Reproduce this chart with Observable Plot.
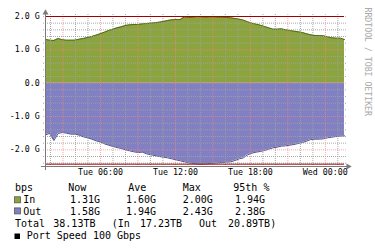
<!DOCTYPE html>
<html><head><meta charset="utf-8">
<script src="https://cdn.jsdelivr.net/npm/d3@7"></script>
<script src="https://cdn.jsdelivr.net/npm/@observablehq/plot@0.6"></script>
<style>
html,body{margin:0;padding:0;background:#fff;}
#wrap{position:relative;width:375px;height:248px;overflow:hidden;background:#fff;}
#wrap svg{display:block;}
</style></head><body><div id="wrap"></div>
<script>
// ---- data (Gbps), samples evenly spaced across the 24h window ----
const inValues = [1.31,1.29,1.28,1.34,1.30,1.29,1.29,1.29,1.32,1.34,
 1.37,1.40,1.44,1.48,1.53,1.58,1.62,1.66,1.69,1.73,
 1.75,1.76,1.76,1.78,1.79,1.80,1.81,1.83,1.85,1.88,
 1.90,1.91,1.91,1.99,1.97,1.98,2.00,1.99,1.98,1.99,
 1.99,1.98,1.98,1.97,1.96,1.94,1.92,1.89,1.84,1.80,
 1.77,1.74,1.70,1.66,1.62,1.62,1.63,1.60,1.58,1.56,
 1.54,1.52,1.48,1.45,1.43,1.43,1.42,1.39,1.36,1.35,
 1.35,1.31];
const outValues = [1.55,1.51,1.72,1.51,1.48,1.50,1.53,1.53,1.56,1.61,
 1.64,1.68,1.73,1.76,1.82,1.86,1.90,1.93,1.96,2.00,
 2.03,2.06,2.08,2.07,2.12,2.15,2.17,2.20,2.22,2.24,
 2.27,2.30,2.33,2.36,2.39,2.41,2.42,2.43,2.42,2.41,
 2.40,2.39,2.38,2.37,2.36,2.32,2.27,2.24,2.15,2.10,
 2.07,2.05,2.02,1.98,1.94,1.92,1.89,1.88,1.86,1.84,
 1.81,1.78,1.74,1.69,1.68,1.68,1.67,1.64,1.62,1.60,
 1.59,1.58];
const windowStart = new Date(2024, 0, 2, 1, 36);  // Tue 01:36
const windowEnd   = new Date(2024, 0, 3, 1, 32);  // Wed 01:32
const yDomain = [-2.5, 2.0];
const yTickValues = [-2, -1, 0, 1, 2];
const yTickLabels = ["-2.0 G", "-1.0 G", "0.0", "1.0 G", "2.0 G"];
const maxIn = 2.00;
const maxOut = 2.43;

// legend texts
const legendHeader = ["bps", "Now", "Ave", "Max", "95th %"];
const seriesNames = ["In", "Out"];
const nowValues = ["1.31G", "1.58G"];
const aveValues = ["1.60G", "1.94G"];
const maxValues = ["2.00G", "2.43G"];
const p95Values = ["1.94G", "2.38G"];
const totalRow = ["Total", "38.13TB", "(In", "17.23TB", "Out", "20.89TB)"];
const portSpeed = "Port Speed 100 Gbps";
const watermark = "RRDTOOL / TOBI OETIKER";

// ---- colours ----
const inFill = "#8ba43e", inLine = "#4e6c1a";
const outFill = "#8080c2", outLine = "#50508f";
const axisColor = "#7a7a7a";
const mono = "'DejaVu Sans Mono', monospace";

const n = inValues.length;
const times = d3.range(n).map(i => new Date(+windowStart + i * (windowEnd - windowStart) / (n - 1)));
const data = times.map((t, i) => ({t, inV: inValues[i], outV: -outValues[i]}));

const hours = d3.timeHour.range(windowStart, windowEnd);
const minorHours = hours.filter(d => d.getHours() % 3 !== 0);
const majorHours = hours.filter(d => d.getHours() % 3 === 0);
const labelHours = hours.filter(d => d.getHours() % 6 === 0);
const minorY = d3.range(-24, 21, 2).map(v => v / 10).filter(v => Math.abs(v - Math.round(v)) > 1e-9);

const fmt = d3.timeFormat("%a %H:%M");

const chart = Plot.plot({
  width: 375,
  height: 180,
  marginLeft: 45,
  marginRight: 31,
  marginTop: 16,
  marginBottom: 14,
  x: {type: "time", domain: [windowStart, windowEnd], label: null},
  y: {domain: yDomain, label: null},
  style: {background: "#fff", fontFamily: mono, fontSize: "8.3px", overflow: "visible"},
  marks: [
    Plot.areaY(data, {x: "t", y: "inV", fill: inFill}),
    Plot.areaY(data, {x: "t", y: "outV", fill: outFill}),
    Plot.lineY(data, {x: "t", y: "inV", stroke: inLine, strokeWidth: 1}),
    Plot.lineY(data, {x: "t", y: "outV", stroke: outLine, strokeWidth: 1}),
    Plot.gridX(minorHours, {stroke: "#a0a0a0", strokeOpacity: 0.9, strokeDasharray: "1,1", insetTop: -2, insetBottom: -2}),
    Plot.gridY(minorY, {stroke: "#a0a0a0", strokeOpacity: 0.9, strokeDasharray: "1,1", insetLeft: -2, insetRight: -2}),
    Plot.gridX(majorHours, {stroke: "#ff8080", strokeOpacity: 0.7, strokeDasharray: "1,1", insetTop: -2, insetBottom: -2}),
    Plot.gridY(yTickValues, {stroke: "#ff8080", strokeOpacity: 0.7, strokeDasharray: "1,1", insetLeft: -2, insetRight: -2}),
    Plot.ruleY([maxIn, -maxOut], {stroke: "#a00000", strokeWidth: 1}),
    Plot.ruleY([yDomain[0]], {stroke: axisColor, insetLeft: -4, insetRight: -4}),
    Plot.ruleX([windowStart], {stroke: axisColor, insetTop: -4, insetBottom: -4}),
    Plot.dot([0], {frameAnchor: "top-left", symbol: "triangle", r: 2.23, fill: axisColor, stroke: null, dy: -3.7}),
    Plot.dot([0], {frameAnchor: "bottom-right", symbol: "triangle", rotate: 90, r: 2.23, fill: axisColor, stroke: null, dx: 3.7}),
    Plot.axisY(yTickValues, {tickSize: 0, tickPadding: 5.7, label: null, tickFormat: d => yTickLabels[yTickValues.indexOf(d)], fill: "#000"}),
    Plot.axisX(labelHours, {tickSize: 0, tickPadding: 3, label: null, tickFormat: fmt, fill: "#000"}),
    Plot.text([watermark], {frameAnchor: "top-right", text: d => d, rotate: 90, textAnchor: "start", lineAnchor: "middle", dx: 23, dy: -9, fill: "#a8a8a8", fontSize: 8.2})
  ]
});
document.getElementById("wrap").appendChild(chart);

// ---- legend below the plot ----
const lg = d3.select("#wrap").append("svg")
  .attr("width", 375).attr("height", 68)
  .style("font-family", mono).style("font-size", "10px");
const headerX = [15, 68.3, 128.3, 182.7, 233.3];
legendHeader.forEach((s, i) => lg.append("text").attr("x", headerX[i]).attr("y", 11.3).attr("fill", "#000").text(s));
const rowY = [23.4, 34.5];
const squareFill = [inFill, outFill];
const colX = [23.3, 70, 126, 182.7, 235];
seriesNames.forEach((name, r) => {
  lg.append("rect").attr("x", 14.5).attr("y", rowY[r] - 6.6).attr("width", 6).attr("height", 6)
    .attr("fill", squareFill[r]).attr("stroke", "#555").attr("stroke-width", 0.8);
  [name, nowValues[r], aveValues[r], maxValues[r], p95Values[r]].forEach((s, c) =>
    lg.append("text").attr("x", colX[c]).attr("y", rowY[r]).attr("fill", "#000").text(s));
});
const totalX = [15, 53.3, 111.7, 140, 199, 228];
totalRow.forEach((s, i) => lg.append("text").attr("x", totalX[i]).attr("y", 46.7).attr("fill", "#000").text(s));
lg.append("rect").attr("x", 14.5).attr("y", 53.5).attr("width", 5.5).attr("height", 5.5).attr("fill", "#000");
lg.append("text").attr("x", 26.7).attr("y", 59.3).attr("fill", "#000").text(portSpeed);
</script>
</body></html>
